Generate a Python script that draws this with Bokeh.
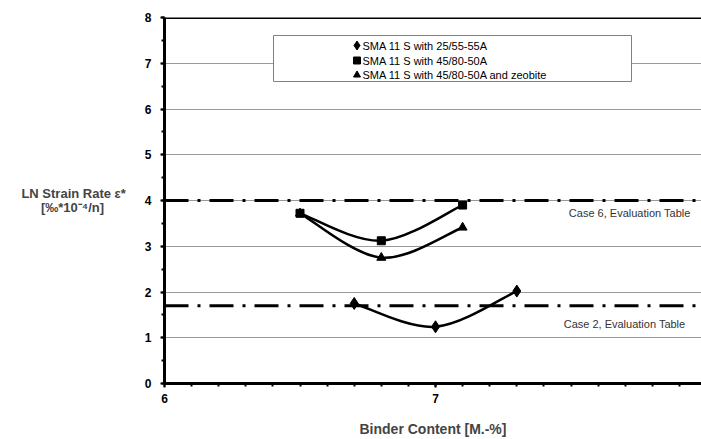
from bokeh.plotting import figure
from bokeh.models import Range1d, Span, Label, FixedTicker
from bokeh.embed import file_html
from bokeh.resources import INLINE

# ---- data ----
binder_a = [6.7, 7.0, 7.3]          # SMA 11 S with 25/55-55A
strain_a = [1.75, 1.24, 2.02]
binder_b = [6.5, 6.8, 7.1]          # SMA 11 S with 45/80-50A
strain_b = [3.72, 3.12, 3.90]
binder_c = [6.5, 6.8, 7.1]          # SMA 11 S with 45/80-50A and zeobite
strain_c = [3.72, 2.75, 3.41]
series_names = ["SMA 11 S with 25/55-55A",
                "SMA 11 S with 45/80-50A",
                "SMA 11 S with 45/80-50A  and zeobite"]
limit_values = [4.0, 1.7]
limit_names = ["Case 6, Evaluation Table", "Case 2, Evaluation Table"]
x_ticks = [6, 7, 8]
y_ticks = [0, 1, 2, 3, 4, 5, 6, 7, 8]

FONT = "Liberation Sans"

p = figure(width=701, height=439, output_backend="svg", toolbar_location=None,
           x_range=Range1d(6, 7.9815), y_range=Range1d(0, 8),
           min_border_left=164, min_border_right=0, min_border_top=17,
           min_border_bottom=56, background_fill_color="white",
           border_fill_color="white")
p.outline_line_color = None

# axes
p.xaxis.ticker = FixedTicker(ticks=x_ticks, minor_ticks=[6 + i / 10 for i in range(0, 21)])
p.yaxis.ticker = FixedTicker(ticks=y_ticks, minor_ticks=[i / 2 for i in range(0, 17)])
for ax in (p.xaxis, p.yaxis):
    ax.axis_line_width = 3
    ax.axis_line_color = "black"
    ax.major_tick_line_width = 2
    ax.minor_tick_line_width = 2
    ax.major_tick_in = 0
    ax.minor_tick_in = 0
    ax.major_tick_out = 4
    ax.minor_tick_out = 3
    ax.major_label_text_font = FONT
    ax.major_label_text_font_size = "12px"
    ax.major_label_text_font_style = "bold"
    ax.major_label_text_color = "black"
p.xaxis.major_label_standoff = 6
p.yaxis.major_label_standoff = 9
p.xaxis.axis_label = "Binder Content [M.-%]"
p.xaxis.axis_label_text_font = FONT
p.xaxis.axis_label_text_font_size = "14px"
p.xaxis.axis_label_text_font_style = "bold"
p.xaxis.axis_label_standoff = 15

p.yaxis.axis_label = "LN Strain Rate ε*\n[‰*10⁻⁴/n]" + "\u00a0" * 6
p.yaxis.axis_label_orientation = "horizontal"
p.yaxis.axis_label_text_font = FONT
p.yaxis.axis_label_text_font_size = "13px"
p.yaxis.axis_label_text_font_style = "bold"
p.yaxis.axis_label_text_line_height = 0.95
p.yaxis.axis_label_standoff = 16

p.xgrid.visible = False
p.ygrid.ticker = FixedTicker(ticks=y_ticks)
p.ygrid.grid_line_color = "#9a9a9a"
p.ygrid.grid_line_width = 1

# top border
p.add_layout(Span(location=8, dimension="width", line_color="black", line_width=3))

# limit lines
for v in limit_values:
    p.add_layout(Span(location=v, dimension="width", line_color="black",
                      line_width=3, line_dash="24 9 3 9"))
p.add_layout(Label(x=7.941, y=3.72, text=limit_names[0], text_align="right",
                   text_baseline="middle", text_font=FONT, text_font_size="11px",
                   text_color="#333333"))
p.add_layout(Label(x=7.922, y=1.29, text=limit_names[1], text_align="right",
                   text_baseline="middle", text_font=FONT, text_font_size="11px",
                   text_color="#333333"))


def smooth(xs, ys):
    n = len(xs)
    out = {k: [] for k in ("x0", "y0", "x1", "y1", "cx0", "cy0", "cx1", "cy1")}
    for i in range(n - 1):
        im = max(i - 1, 0)
        ip = min(i + 2, n - 1)
        out["x0"].append(xs[i]); out["y0"].append(ys[i])
        out["x1"].append(xs[i + 1]); out["y1"].append(ys[i + 1])
        out["cx0"].append(xs[i] + (xs[i + 1] - xs[im]) / 6)
        out["cy0"].append(ys[i] + (ys[i + 1] - ys[im]) / 6)
        out["cx1"].append(xs[i + 1] - (xs[ip] - xs[i]) / 6)
        out["cy1"].append(ys[i + 1] - (ys[ip] - ys[i]) / 6)
    return out


for xs, ys in ((binder_a, strain_a), (binder_b, strain_b), (binder_c, strain_c)):
    s = smooth(xs, ys)
    p.bezier(line_color="black", line_width=2.5, **s)

p.scatter(binder_c, strain_c, marker="triangle", size=9, color="black")
p.scatter(binder_b, strain_b, marker="square", size=8, color="black")
p.scatter(binder_a, strain_a, marker="diamond", size=12, color="black")

# legend box (manual, to match the wide Excel legend)
p.quad(left=[6 + (273 - 164) / 271], right=[6 + (631 - 164) / 271],
       bottom=[(383 - 81) / 45.75], top=[(383 - 35) / 45.75],
       fill_color="white", line_color="#808080", line_width=1)
leg_x = 6 + (356.5 - 164) / 271
leg_y = [(383 - 45) / 45.75, (383 - 60) / 45.75, (383 - 74.5) / 45.75]
p.scatter([leg_x], [leg_y[0]], marker="diamond", size=9, color="black")
p.scatter([leg_x], [leg_y[1]], marker="square", size=7, color="black")
p.scatter([leg_x], [leg_y[2]], marker="triangle", size=7, color="black")
for yv, name in zip(leg_y, series_names):
    p.add_layout(Label(x=6 + (362 - 164) / 271, y=yv, text=name,
                       text_align="left", text_baseline="middle",
                       text_font=FONT, text_font_size="11px", text_color="black"))

open("out.html", "w").write(file_html(p, INLINE))
